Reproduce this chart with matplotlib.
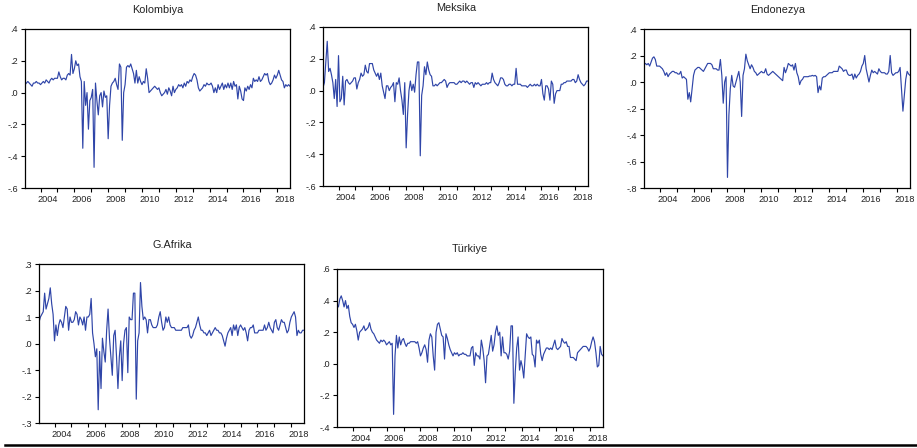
import pandas as pd
import matplotlib
matplotlib.use('Agg')
import matplotlib.pyplot as plt
from matplotlib.ticker import FixedLocator, FixedFormatter, FuncFormatter
from matplotlib.lines import Line2D

plt.rcParams['font.family'] = ['Liberation Sans', 'DejaVu Sans']

# monthly series, 2003M02 - 2018M10
kolombiya = [
    0.05, 0.06, 0.07, 0.06, 0.05, 0.04, 0.06, 0.06, 0.07, 0.06, 0.06,
    0.05, 0.06, 0.07, 0.06, 0.08, 0.07, 0.06, 0.08, 0.09, 0.08, 0.09, 0.09,
    0.09, 0.13, 0.10, 0.08, 0.09, 0.09, 0.08, 0.11, 0.12, 0.11, 0.24, 0.12,
    0.15, 0.20, 0.17, 0.18, 0.10, 0.07, -0.35, 0.07, -0.08, 0.00, -0.23, -0.05,
    -0.03, 0.02, -0.47, 0.06, -0.05, -0.14, -0.02, 0.00, -0.09, 0.01, -0.03, -0.02,
    -0.29, -0.08, 0.04, 0.06, 0.07, 0.09, 0.05, 0.02, 0.18, 0.16, -0.30, 0.00,
    0.05, 0.16, 0.17, 0.16, 0.18, 0.15, 0.12, 0.06, 0.14, 0.06, 0.10, 0.07,
    0.05, 0.07, 0.06, 0.15, 0.09, 0.00, 0.01, 0.02, 0.03, 0.04, 0.03, 0.02,
    0.03, 0.00, -0.02, -0.01, 0.00, 0.02, -0.01, 0.03, 0.01, -0.02, 0.04, 0.00,
    0.02, 0.03, 0.05, 0.04, 0.05, 0.03, 0.06, 0.04, 0.07, 0.06, 0.08, 0.07,
    0.10, 0.12, 0.11, 0.08, 0.03, 0.01, 0.02, 0.03, 0.05, 0.04, 0.06, 0.05,
    0.05, 0.06, 0.04, 0.00, 0.03, 0.00, 0.05, 0.02, 0.04, 0.06, 0.02, 0.05,
    0.03, 0.06, 0.03, 0.06, 0.02, 0.07, 0.04, 0.05, -0.04, 0.04, 0.01, -0.04,
    -0.05, 0.03, 0.01, 0.04, 0.02, 0.05, 0.03, 0.09, 0.07, 0.08, 0.07, 0.10,
    0.07, 0.08, 0.10, 0.12, 0.11, 0.12, 0.07, 0.05, 0.06, 0.08, 0.11, 0.09,
    0.11, 0.14, 0.11, 0.08, 0.07, 0.03, 0.05, 0.04, 0.05, 0.04,
]

meksika = [
    0.02, 0.05, 0.18, 0.31, 0.12, 0.14, 0.10, 0.05, -0.05, 0.07, -0.10,
    0.22, -0.07, -0.05, 0.09, -0.09, 0.06, 0.07, 0.05, 0.04, 0.05, 0.06, 0.08,
    0.08, 0.01, 0.05, 0.07, 0.11, 0.09, 0.10, 0.16, 0.12, 0.11, 0.17, 0.17,
    0.17, 0.13, 0.11, 0.09, 0.11, 0.07, 0.11, 0.03, -0.01, -0.05, 0.03, 0.03,
    0.00, 0.02, 0.03, 0.05, -0.07, 0.05, 0.04, 0.08, 0.00, -0.06, -0.15, 0.05,
    -0.36, -0.15, 0.00, 0.06, 0.00, 0.04, -0.01, 0.10, 0.18, 0.18, -0.41, -0.03,
    0.03, 0.15, 0.10, 0.18, 0.13, 0.10, 0.09, 0.03, 0.03, 0.04, 0.03, 0.04,
    0.05, 0.05, 0.06, 0.07, 0.06, 0.02, 0.04, 0.05, 0.05, 0.05, 0.05, 0.04,
    0.04, 0.05, 0.06, 0.05, 0.06, 0.06, 0.05, 0.06, 0.05, 0.04, 0.05, 0.05,
    0.02, 0.05, 0.04, 0.05, 0.04, 0.03, 0.04, 0.04, 0.04, 0.05, 0.04, 0.05,
    0.05, 0.11, 0.07, 0.05, 0.04, 0.03, 0.05, 0.08, 0.08, 0.07, 0.04, 0.03,
    0.03, 0.04, 0.04, 0.03, 0.04, 0.04, 0.14, 0.04, 0.04, 0.04, 0.03, 0.03,
    0.03, 0.03, 0.02, 0.03, 0.04, 0.03, 0.03, 0.04, 0.03, 0.04, 0.03, 0.03,
    0.07, -0.02, -0.06, 0.03, 0.03, 0.01, -0.06, 0.06, 0.04, -0.08, -0.02, 0.00,
    0.00, 0.00, 0.04, 0.04, 0.05, 0.05, 0.06, 0.06, 0.06, 0.06, 0.07, 0.07,
    0.05, 0.06, 0.10, 0.07, 0.05, 0.04, 0.03, 0.04, 0.06, 0.06,
]

endonezya = [
    0.13, 0.14, 0.13, 0.14, 0.12, 0.15, 0.18, 0.19, 0.17, 0.12, 0.12,
    0.12, 0.11, 0.10, 0.08, 0.05, 0.07, 0.04, 0.06, 0.07, 0.08, 0.08, 0.07,
    0.07, 0.06, 0.06, 0.08, 0.03, 0.04, 0.03, 0.02, -0.13, -0.08, -0.15, -0.05,
    0.05, 0.09, 0.10, 0.11, 0.11, 0.10, 0.09, 0.08, 0.10, 0.12, 0.14, 0.14,
    0.14, 0.13, 0.10, 0.10, 0.10, 0.09, 0.09, 0.17, 0.05, -0.16, 0.00, 0.04,
    -0.72, -0.25, -0.05, 0.05, -0.03, -0.04, 0.00, 0.04, 0.08, 0.00, -0.26, 0.05,
    0.10, 0.21, 0.16, 0.13, 0.10, 0.13, 0.11, 0.08, 0.07, 0.05, 0.06, 0.07,
    0.08, 0.07, 0.07, 0.10, 0.06, 0.05, 0.06, 0.07, 0.08, 0.07, 0.06, 0.05,
    0.04, 0.03, 0.02, 0.01, 0.11, 0.07, 0.10, 0.14, 0.13, 0.12, 0.13, 0.09,
    0.14, 0.07, 0.04, -0.02, 0.01, 0.02, 0.04, 0.04, 0.04, 0.04, 0.045, 0.045,
    0.05, 0.045, 0.05, 0.04, -0.08, -0.03, -0.06, 0.03, 0.04, 0.04, 0.05, 0.06,
    0.07, 0.07, 0.07, 0.08, 0.08, 0.08, 0.08, 0.12, 0.11, 0.10, 0.08, 0.09,
    0.09, 0.06, 0.05, 0.05, 0.06, 0.02, 0.06, 0.03, 0.05, 0.06, 0.08, 0.12,
    0.14, 0.20, 0.10, 0.05, 0.00, 0.05, 0.09, 0.07, 0.08, 0.07, 0.06, 0.10,
    0.08, 0.07, 0.07, 0.07, 0.06, 0.06, 0.08, 0.20, 0.07, 0.05, 0.06, 0.07,
    0.07, 0.08, 0.11, -0.05, -0.22, -0.10, 0.02, 0.08, 0.06, 0.05,
]

g_afrika = [
    0.08, 0.10, 0.11, 0.12, 0.19, 0.13, 0.15, 0.17, 0.21, 0.15, 0.11,
    0.01, 0.07, 0.03, 0.07, 0.09, 0.08, 0.06, 0.10, 0.14, 0.13, 0.05, 0.10,
    0.08, 0.08, 0.09, 0.12, 0.11, 0.07, 0.10, 0.09, 0.07, 0.10, 0.05, 0.10,
    0.10, 0.11, 0.17, 0.04, 0.00, -0.05, -0.02, -0.25, -0.03, -0.17, 0.02, -0.03,
    -0.07, 0.05, 0.13, 0.02, -0.05, -0.12, 0.03, 0.05, -0.05, -0.17, -0.05, 0.01,
    -0.14, 0.00, 0.05, 0.06, -0.11, 0.10, 0.09, 0.09, 0.19, 0.19, -0.21, 0.01,
    0.04, 0.23, 0.14, 0.09, 0.10, 0.09, 0.04, 0.09, 0.09, 0.07, 0.06, 0.06,
    0.06, 0.07, 0.10, 0.12, 0.08, 0.05, 0.06, 0.10, 0.08, 0.10, 0.07, 0.06,
    0.06, 0.06, 0.05, 0.05, 0.05, 0.05, 0.05, 0.06, 0.06, 0.06, 0.06, 0.07,
    0.03, 0.02, 0.03, 0.05, 0.06, 0.08, 0.10, 0.07, 0.05, 0.05, 0.04, 0.04,
    0.03, 0.04, 0.05, 0.03, 0.04, 0.05, 0.06, 0.05, 0.05, 0.04, 0.04, 0.03,
    0.01, -0.01, 0.02, 0.04, 0.05, 0.06, 0.03, 0.07, 0.05, 0.07, 0.03, 0.06,
    0.07, 0.06, 0.05, 0.06, 0.04, 0.01, 0.05, 0.06, 0.06, 0.07, 0.04, 0.04,
    0.04, 0.05, 0.05, 0.05, 0.05, 0.07, 0.05, 0.06, 0.08, 0.06, 0.05, 0.04,
    0.08, 0.09, 0.06, 0.05, 0.07, 0.09, 0.08, 0.08, 0.06, 0.04, 0.05, 0.08,
    0.10, 0.11, 0.12, 0.10, 0.03, 0.05, 0.04, 0.04, 0.05, 0.05,
]

turkiye = [
    0.38, 0.36, 0.41, 0.43, 0.40, 0.36, 0.40, 0.35, 0.37, 0.30, 0.26,
    0.25, 0.23, 0.25, 0.21, 0.15, 0.20, 0.21, 0.22, 0.24, 0.21, 0.22, 0.23,
    0.26, 0.22, 0.20, 0.19, 0.17, 0.15, 0.14, 0.13, 0.15, 0.14, 0.15, 0.14,
    0.12, 0.13, 0.14, 0.12, 0.13, -0.32, 0.05, 0.18, 0.10, 0.17, 0.12, 0.15,
    0.16, 0.13, 0.11, 0.13, 0.13, 0.14, 0.14, 0.14, 0.14, 0.13, 0.14, 0.10,
    0.05, 0.07, 0.10, 0.12, 0.09, 0.01, 0.15, 0.19, 0.17, 0.05, -0.04, 0.20,
    0.25, 0.26, 0.22, 0.18, 0.17, 0.03, 0.19, 0.16, 0.12, 0.09, 0.07, 0.05,
    0.07, 0.06, 0.07, 0.05, 0.06, 0.06, 0.07, 0.06, 0.06, 0.05, 0.05, 0.05,
    0.10, 0.11, -0.01, 0.07, 0.05, 0.05, 0.03, 0.15, 0.10, 0.02, -0.12, 0.05,
    0.06, 0.12, 0.18, 0.08, 0.12, 0.20, 0.24, 0.18, 0.20, 0.05, 0.17, 0.07,
    0.07, 0.06, 0.03, 0.08, 0.24, 0.24, -0.25, -0.05, 0.10, 0.17, -0.04, 0.02,
    -0.02, -0.09, 0.05, 0.19, 0.17, 0.16, 0.17, 0.06, 0.05, -0.02, 0.15, 0.13,
    0.15, 0.06, 0.02, 0.06, 0.08, 0.10, 0.10, 0.09, 0.10, 0.09, 0.12, 0.15,
    0.10, 0.09, 0.10, 0.11, 0.16, 0.14, 0.13, 0.14, 0.11, 0.11, 0.04, 0.04,
    0.04, 0.03, 0.02, 0.07, 0.08, 0.09, 0.10, 0.11, 0.11, 0.11, 0.10, 0.08,
    0.10, 0.14, 0.17, 0.14, 0.07, -0.02, -0.01, 0.11, 0.06, 0.05,
]

titles = ['Kolombiya', 'Meksika', 'Endonezya', 'G.Afrika', 'Türkiye']
series = [kolombiya, meksika, endonezya, g_afrika, turkiye]
y_ranges = [(-0.6, 0.4, 0.2), (-0.6, 0.4, 0.2), (-0.8, 0.4, 0.2),
            (-0.3, 0.3, 0.1), (-0.4, 0.6, 0.2)]
label_years = list(range(2004, 2019, 2))

W, H = 917, 448
# left, right, top, bottom in pixels
boxes = [(25, 290, 29, 188), (323, 588, 27, 186), (644, 910, 29, 188),
         (39, 304, 264, 423), (337, 603, 269, 427)]
title_pos = [(158, 10), (456, 8), (778, 10), (172, 245), (470, 249)]

line_color = '#2f45a8'

def eviews_fmt(v, pos):
    s = '%.1f' % v
    if s.startswith('0'):
        s = s[1:]
    elif s.startswith('-0'):
        s = '-' + s[2:]
    return s

fig = plt.figure(figsize=(W / 100, H / 100), dpi=100)

for vals, name, (ymin, ymax, step), (l, r, t, b), (tx, ty) in zip(
        series, titles, y_ranges, boxes, title_pos):
    dates = pd.date_range('2003-02-01', periods=len(vals), freq='MS')
    x = dates.year + (dates.month - 1) / 12.0
    ax = fig.add_axes([l / W, 1 - b / H, (r - l) / W, (b - t) / H])
    ax.plot(x, vals, color=line_color, linewidth=0.85)
    ax.set_xlim(x[0], x[-1])
    ax.set_ylim(ymin, ymax)
    n = int(round((ymax - ymin) / step))
    ax.set_yticks([ymin + i * step for i in range(n + 1)])
    ax.yaxis.set_major_formatter(FuncFormatter(eviews_fmt))
    # year ticks, labels centred in the year
    ax.xaxis.set_major_locator(FixedLocator(list(range(2004, 2019))))
    ax.xaxis.set_major_formatter(FixedFormatter([''] * 15))
    ax.xaxis.set_minor_locator(FixedLocator([yr + 0.45 for yr in label_years]))
    ax.xaxis.set_minor_formatter(FixedFormatter([str(yr) for yr in label_years]))
    ax.tick_params(axis='x', which='major', direction='out', length=3, width=0.8)
    ax.tick_params(axis='x', which='minor', length=0, pad=5, labelsize=6.6,
                   labelcolor='#222222')
    ax.tick_params(axis='y', direction='out', length=3, width=0.8, labelsize=6.6,
                   pad=2, labelcolor='#222222')
    for sp in ax.spines.values():
        sp.set_linewidth(0.9)
    fig.text(tx / W, 1 - ty / H, name, ha='center', va='center', fontsize=7.8,
             color='#222222')

fig.add_artist(Line2D([5 / W, 1.0], [1 - 444.5 / H, 1 - 444.5 / H],
                      color='black', linewidth=1.8, transform=fig.transFigure))

fig.savefig('out.png', dpi=100)
